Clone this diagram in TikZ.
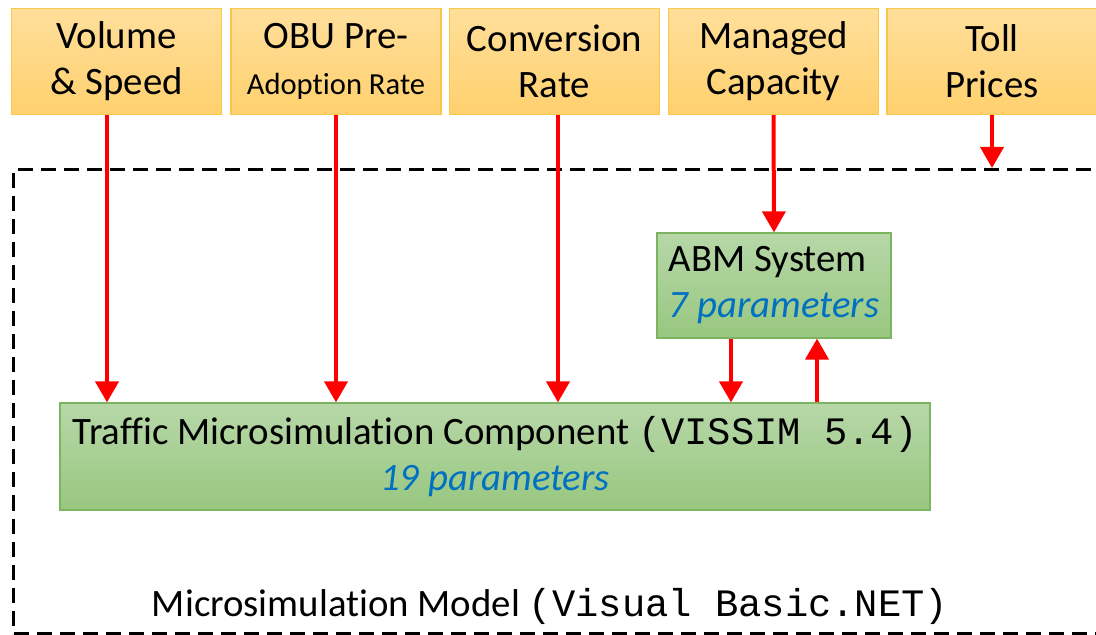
\documentclass[tikz,border=0pt]{standalone}
\usepackage{fontspec}
\setmainfont{Carlito}[Ligatures=NoCommon]
\setmonofont{Liberation Mono}
\usepackage{xcolor}
\usetikzlibrary{arrows.meta, positioning, calc}

\definecolor{inborder}{RGB}{250,200,70}
\definecolor{intop}{RGB}{255,223,155}
\definecolor{inbot}{RGB}{255,208,110}
\definecolor{compborder}{RGB}{125,180,95}
\definecolor{comptop}{RGB}{183,215,168}
\definecolor{compbot}{RGB}{152,199,128}
\definecolor{parblue}{RGB}{0,112,192}

\newcommand{\params}[1]{{\color{parblue}\itshape #1}}

\begin{document}
\begin{tikzpicture}[
    x=0.5pt, y=-0.5pt,
    font=\fontsize{19.4}{23}\selectfont,
    input/.style={rectangle, draw=inborder, line width=0.6pt, top color=intop, bottom color=inbot,
        minimum width=105pt, minimum height=53pt, align=center, inner sep=2pt},
    comp/.style={rectangle, draw=compborder, line width=0.6pt, top color=comptop, bottom color=compbot,
        inner sep=0pt},
    frame/.style={rectangle, draw, line width=1.5pt, dash pattern=on 7.5pt off 4pt,
        minimum width=550pt, minimum height=232pt, anchor=north west},
    arr/.style={-{Triangle[width=11.5pt,length=10.5pt]}, red, line width=2pt}
]
\useasboundingbox (0,0) rectangle (1096,635);

% Model frame
\node[frame] (model) at (12,168) {};
\node (modlabel) at (550,606) {Microsimulation Model {\ttfamily (Visual Basic.NET)}};

% Inputs
\node[input] (vol) at (116.5,61.5) {Volume\\\& Speed};
\node[input] (obu) at (336,61.5) {OBU Pre-\\{\fontsize{15.3}{23}\selectfont Adoption Rate}};
\node[input] (conv) at (554.5,61.5) {Conversion\\Rate};
\node[input] (cap) at (773.5,61.5) {Managed\\Capacity};
\node[input] (toll) at (992,61.5) {Toll\\Prices};

% Components
\node[comp, minimum width=117pt, minimum height=52.5pt, align=left]
    (abm) at (774,285.5) {ABM System\\\params{7 parameters}};
\node[comp, minimum width=435pt, minimum height=53.5pt, align=center]
    (tmc) at (495,456.5) {Traffic Microsimulation Component {\ttfamily (VISSIM 5.4)}\\\params{19 parameters}};

% Flows
\draw[arr] ([xshift=-4.75pt]vol.south) -- ([xshift=-4.75pt]vol.south |- tmc.north);
\draw[arr] (obu.south) -- (obu.south |- tmc.north);
\draw[arr] ([xshift=1.75pt]conv.south) -- ([xshift=1.75pt]conv.south |- tmc.north);
\draw[arr] (cap.south) -- (abm.north);
\draw[arr] (toll.south) -- (toll.south |- model.north);
\draw[arr] ([xshift=-21.5pt]abm.south) -- ([xshift=-21.5pt]abm.south |- tmc.north);
\draw[arr] ([xshift=21.5pt]abm.south |- tmc.north) -- ([xshift=21.5pt]abm.south);

\end{tikzpicture}
\end{document}
